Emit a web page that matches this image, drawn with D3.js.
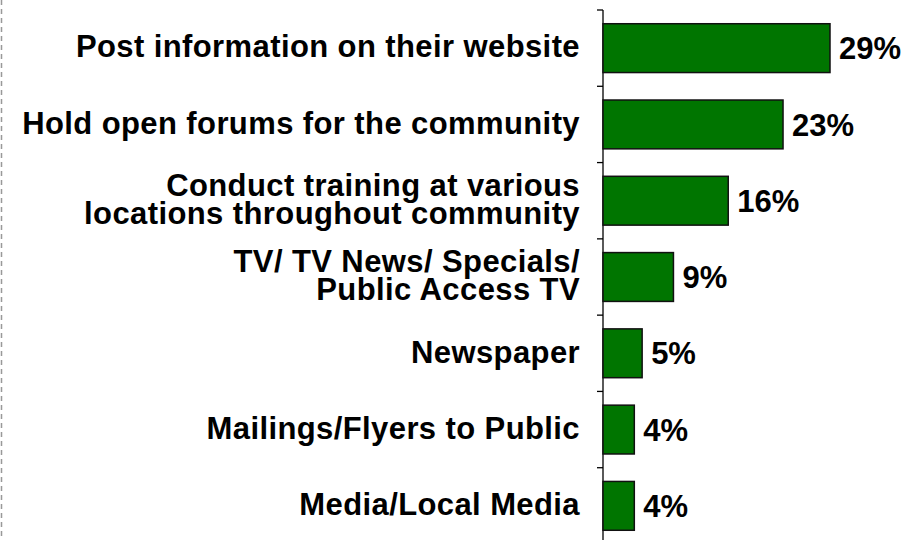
<!DOCTYPE html>
<html lang="en">
<head>
	<meta charset="UTF-8">
	<title>Bar chart</title>
	<script src="https://cdn.jsdelivr.net/npm/d3@7"></script>
	<style>
		body { margin: 0; background: #fff; }
		text { font-family: "Liberation Sans", Arial, sans-serif; font-weight: bold; fill: #000; }
	</style>
</head>
<body>
	<div id="chart"></div>
</body>
<script>
var categories = [
	["Post information on their website"],
	["Hold open forums for the community"],
	["Conduct training at various", "locations throughout community"],
	["TV/ TV News/ Specials/", "Public Access TV"],
	["Newspaper"],
	["Mailings/Flyers to Public"],
	["Media/Local Media"]
];
var values = [29, 23, 16, 9, 5, 4, 4]; // percent

window.onload = function(){
	var svg = d3.select("#chart").append("svg")
		.attr("width", 913)
		.attr("height", 540);

	// dashed border line on the left
	svg.append("line")
		.attr("x1", 1.5).attr("x2", 1.5)
		.attr("y1", 0).attr("y2", 540)
		.attr("stroke", "#999")
		.attr("stroke-width", 1.5)
		.attr("stroke-dasharray", "5,4");

	var keys = d3.range(categories.length);

	var xScale = d3.scaleLinear()
		.domain([0, 29])
		.range([603, 830]);

	var yScale = d3.scaleBand()
		.domain(keys)
		.range([10, 544])
		.paddingInner(0.36)
		.paddingOuter(0.18);

	var step = yScale.step();

	// axis line and ticks at the category boundaries
	svg.append("line")
		.attr("x1", xScale(0)).attr("x2", xScale(0))
		.attr("y1", 10).attr("y2", 540)
		.attr("stroke", "#000").attr("stroke-width", 1.3);

	svg.selectAll("line.tick")
		.data(d3.range(categories.length + 1))
		.enter().append("line")
		.attr("class", "tick")
		.attr("x1", xScale(0) - 6).attr("x2", xScale(0))
		.attr("y1", function(d){ return 10 + d * step; })
		.attr("y2", function(d){ return 10 + d * step; })
		.attr("stroke", "#000").attr("stroke-width", 1.3);

	svg.selectAll("rect")
		.data(values)
		.enter().append("rect")
		.attr("x", xScale(0))
		.attr("y", function(d,i){ return yScale(i); })
		.attr("width", function(d){ return xScale(d) - xScale(0); })
		.attr("height", yScale.bandwidth())
		.attr("fill", "#007500")
		.attr("stroke", "#111")
		.attr("stroke-width", 1.5);

	// value labels
	svg.selectAll("text.val")
		.data(values)
		.enter().append("text")
		.attr("class", "val")
		.attr("x", function(d){ return xScale(d) + 9; })
		.attr("y", function(d,i){ return yScale(i) + yScale.bandwidth() / 2; })
		.attr("dy", "0.36em")
		.style("font-size", "31px")
		.text(function(d){ return d + "%"; });

	// category labels
	var labels = svg.selectAll("text.cat")
		.data(categories)
		.enter().append("text")
		.attr("class", "cat")
		.attr("text-anchor", "end")
		.style("font-size", "31px")
		.style("letter-spacing", "0.4px")
		.attr("y", function(d,i){ return yScale(i) + yScale.bandwidth() / 2; });

	labels.selectAll("tspan")
		.data(function(d){ return d.map(function(s, j){ return {s: s, j: j, n: d.length}; }); })
		.enter().append("tspan")
		.attr("x", 580)
		.attr("dy", function(t){
			if (t.n === 1) return "0.3em";
			return t.j === 0 ? "-0.16em" : "0.9em";
		})
		.text(function(t){ return t.s; });
};
</script>
</html>
